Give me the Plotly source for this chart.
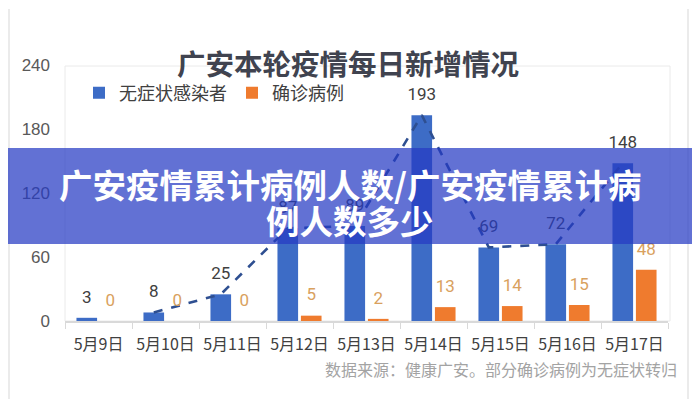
import plotly.graph_objects as go

dates = ["5月9日", "5月10日", "5月11日", "5月12日", "5月13日", "5月14日", "5月15日", "5月16日", "5月17日"]
asymptomatic = [3, 8, 25, 87, 89, 193, 69, 72, 148]
confirmed = [0, 0, 0, 5, 2, 13, 14, 15, 48]
y_ticks = [0, 60, 120, 180, 240]

BLUE = "#3d6cc6"
ORANGE = "#ef7b2e"
BARGAP = 0.30
GROUPGAP = 0.12
off = (1 - BARGAP) / 4.0
idx = list(range(len(dates)))

# page has an 8px body margin; figure sized so it fits the 700x400 window
PAGE = 8
FW, FH = 700 - PAGE, 400 - PAGE
# plot area in window pixels: x 65..668, y 65..321
L, T = 65 - PAGE, 65 - PAGE
R, B = FW - (668 - PAGE), FH - (321 - PAGE)
W, H = FW - L - R, FH - T - B
def px(x):
    return (x - PAGE - L) / W
def py(y):
    return (FH - B - (y - PAGE)) / H

CJK = "Noto Sans CJK SC"

fig = go.Figure()
fig.add_trace(go.Bar(name="无症状感染者", x=dates, y=asymptomatic, marker_color=BLUE,
                     marker_line_width=0, hoverinfo="skip"))
fig.add_trace(go.Bar(name="确诊病例", x=dates, y=confirmed, marker_color=ORANGE,
                     marker_line_width=0, hoverinfo="skip"))

# dashed trend line through blue bar tops (from 5月10日)
fig.add_trace(go.Scatter(x=[i - off for i in idx[1:]], y=asymptomatic[1:], xaxis="x2",
                         mode="lines", line=dict(color="#2e4f91", width=2.6, dash="dash"),
                         showlegend=False, hoverinfo="skip"))

# value labels
fig.add_trace(go.Scatter(x=[i - off for i in idx], y=asymptomatic, xaxis="x2",
                         mode="markers+text", text=[str(v) for v in asymptomatic],
                         textposition="top center", marker=dict(size=16, opacity=0),
                         textfont=dict(family="Liberation Sans Narrow, Roboto, sans-serif", size=17, color="#404040"),
                         showlegend=False, hoverinfo="skip", cliponaxis=False))
fig.add_trace(go.Scatter(x=[i + off for i in idx], y=confirmed, xaxis="x2",
                         mode="markers+text", text=[str(v) for v in confirmed],
                         textposition="top center", marker=dict(size=16, opacity=0),
                         textfont=dict(family="Liberation Sans Narrow, Roboto, sans-serif", size=17, color="#d9a15e"),
                         showlegend=False, hoverinfo="skip", cliponaxis=False))

shapes = [
    # inner chart box
    dict(type="rect", xref="paper", yref="paper", x0=0, x1=px(670), y0=0, y1=py(66),
         line=dict(color="#eaeaea", width=1), layer="below"),
    # outer frame
    dict(type="line", xref="paper", yref="paper", x0=px(9), x1=px(9), y0=py(399), y1=py(9),
         line=dict(color="#e4e4e4", width=1.5)),
    dict(type="line", xref="paper", yref="paper", x0=px(688), x1=px(688), y0=py(399), y1=py(9),
         line=dict(color="#e4e4e4", width=1.5)),
    # overlay banner
    dict(type="rect", xref="paper", yref="paper", x0=px(0), x1=px(700), y0=py(244), y1=py(148),
         fillcolor="rgba(38,58,196,0.72)", line=dict(width=0), layer="above"),
]

annotations = [
    dict(text="<b>广安本轮疫情每日新增情况</b>", xref="paper", yref="paper", x=px(348), y=py(40),
         showarrow=False, font=dict(family=CJK, size=28.5, color="#40434f")),
    dict(text="数据来源：健康广安。部分确诊病例为无症状转归", xref="paper", yref="paper",
         x=px(679), y=py(383), xanchor="right", showarrow=False,
         font=dict(family=CJK, size=16, color="#a3a3a3")),
    dict(text="<b>广安疫情累计病例人数/广安疫情累计病</b>", xref="paper", yref="paper",
         x=px(350), y=py(183), showarrow=False,
         font=dict(family=CJK, size=33.5, color="#ffffff")),
    dict(text="<b>例人数多少</b>", xref="paper", yref="paper",
         x=px(350), y=py(219), showarrow=False,
         font=dict(family=CJK, size=33.5, color="#ffffff")),
]

fig.update_layout(
    width=FW, height=FH,
    margin=dict(l=L, r=R, t=T, b=B, autoexpand=False),
    paper_bgcolor="white", plot_bgcolor="white",
    barmode="group", bargap=BARGAP, bargroupgap=GROUPGAP,
    showlegend=True,
    legend=dict(orientation="h", x=px(79), y=py(93), xanchor="left", yanchor="middle",
                font=dict(family=CJK, size=18, color="#404040"), bgcolor="rgba(0,0,0,0)",
                itemwidth=30, traceorder="normal"),
    xaxis=dict(type="category", range=[-0.5, len(dates) - 0.5], showgrid=False,
               showline=True, linecolor="#d9d9d9", linewidth=1.5, automargin=False,
               ticks="outside", tickson="boundaries", ticklen=6, tickcolor="#d9d9d9",
               tickangle=0,
               tickfont=dict(family=CJK, size=16, color="#404040"), ticklabelstandoff=8),
    xaxis2=dict(overlaying="x", range=[-0.5, len(dates) - 0.5], visible=False),
    yaxis=dict(range=[0, 240], tickvals=y_ticks, showgrid=False, zeroline=False, showline=False,
               automargin=False,
               tickfont=dict(family="Liberation Sans, Roboto, sans-serif", size=17, color="#595959"),
               ticklabelstandoff=14),
    shapes=shapes,
    annotations=annotations,
)

fig.write_html("out.html")
